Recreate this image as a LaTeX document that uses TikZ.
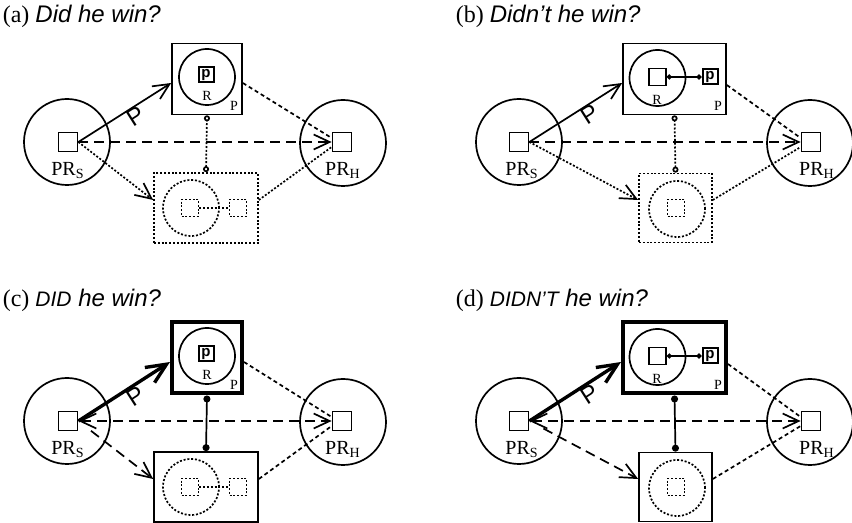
\documentclass[tikz,border=0pt]{standalone}
\usepackage{fontspec}
\setmainfont{Liberation Serif}
\setsansfont{Liberation Sans}
\usetikzlibrary{arrows.meta}

\tikzset{
  >={Straight Barb[length=8pt,width=7.5pt]},
  ring/.style={circle, draw, minimum size=43pt, inner sep=0pt},
  inring/.style={circle, draw, minimum size=28pt, inner sep=0pt},
  sqbig/.style={draw, minimum size=9.5pt, inner sep=0pt},
  sqsmall/.style={draw, minimum size=8.5pt, inner sep=0pt},
  pbox/.style={draw, line width=1pt, minimum size=7.5pt, inner sep=0pt,
    font=\sffamily\bfseries\fontsize{7.5}{7.5}\selectfont},
  box/.style={draw, minimum height=35.5pt, inner sep=0pt},
  dotline/.style={dash pattern=on 1pt off 0.9pt},
  sdash/.style={dash pattern=on 2pt off 1.5pt},
  ldash/.style={dash pattern=on 5pt off 3pt},
  prlabel/.style={anchor=base, inner sep=0pt, font=\fontsize{10}{10}\selectfont},
  smallab/.style={inner sep=0pt, font=\fontsize{7}{7}\selectfont},
  msg/.style={sloped, below, inner sep=0pt, font=\sffamily\fontsize{12}{12}\selectfont},
  paneltitle/.style={anchor=base west, inner sep=0pt, font=\fontsize{12}{12}\selectfont},
  thickarrow/.style={line width=1.7pt, -{Straight Barb[length=10pt,width=9pt]}}
}

\begin{document}
\begin{tikzpicture}[x=0.5pt, y=-0.5pt, line width=0.85pt]
\useasboundingbox (0,0) rectangle (852,523);

% ---------- (a) ----------
\node[paneltitle] (titA) at (2,23) {(a) {\sffamily\itshape Did he win?}};
% hablantes
\node[ring] (cSa) at (67,142) {};
\node[sqbig] (sSa) at (68,142) {};
\node[prlabel] (lSa) at (68,176) {PR\textsubscript{S}};
\node[ring] (cHa) at (343,143) {};
\node[sqbig] (sHa) at (342,142) {};
\node[prlabel] (lHa) at (343,176) {PR\textsubscript{H}};
% caja superior
\node[box, minimum width=35pt] (tA) at (207,79) {};
\node[inring] (rA) at (207,77) {};
\node[pbox] (pA) at (206,75) {p};
\node[smallab] (rlA) at (207,96) {R};
\node[smallab] (plA) at (234,106) {P};
% caja inferior (punteada)
\node[box, dotline, minimum width=52pt, minimum height=35pt] (bA) at (206,208) {};
\node[inring, dotline] (rbA) at (191,208) {};
\node[sqsmall, dotline] (qA) at (190,208) {};
\node[sqsmall, dotline] (qqA) at (238,208) {};
\draw[dotline] (qA) -- (qqA);
% flechas
\draw[->] (sSa.east) -- ([yshift=-2pt]tA.west) node[msg, pos=0.57] (mA) {P};
\draw[->, ldash] (sSa.east) -- (sHa.west);
\draw[->, dotline] (sSa.east) -- ([yshift=4pt]bA.west);
\draw[sdash] ([yshift=-2pt]tA.east) -- ([yshift=2pt]sHa.west);
\draw[dotline] ([yshift=4pt]bA.east) -- ([yshift=-2.5pt]sHa.west);
\draw[dotline, {Circle[open,length=3pt]}-{Circle[open,length=3pt]}] (bA.north) -- (tA.south);

% ---------- (b) ----------
\node[paneltitle] (titB) at (455,23) {(b) {\sffamily\itshape Didn’t he win?}};
\node[ring] (cSb) at (519,142) {};
\node[sqbig] (sSb) at (519,142) {};
\node[prlabel] (lSb) at (522,176) {PR\textsubscript{S}};
\node[ring] (cHb) at (810,143) {};
\node[sqbig] (sHb) at (811,142) {};
\node[prlabel] (lHb) at (817,176) {PR\textsubscript{H}};
% caja superior
\node[box, minimum width=51.5pt] (tB) at (674.5,79) {};
\node[inring] (rB) at (657.5,78) {};
\node[sqsmall] (qtB) at (657.5,77) {};
\node[pbox] (pB) at (710,77) {p};
\node[smallab] (rlB) at (657,100) {R};
\node[smallab] (plB) at (718,106) {P};
\draw[{Circle[length=2.5pt]}-{Circle[length=2.5pt]}] (qtB) -- (pB);
% caja inferior (punteada)
\node[box, dotline, minimum width=36.5pt, minimum height=34.5pt] (bB) at (675.5,208) {};
\node[inring, dotline] (rbB) at (677,209) {};
\node[sqsmall, dotline] (qB) at (676,208) {};
% flechas
\draw[->] (sSb.east) -- ([yshift=-2pt]tB.west) node[msg, pos=0.6] (mB) {P};
\draw[->, ldash] (sSb.east) -- (sHb.west);
\draw[->, dotline] (sSb.east) -- ([yshift=4pt]bB.west);
\draw[sdash] ([yshift=-3pt]tB.east) -- ([yshift=2pt]sHb.west);
\draw[dotline] ([yshift=4pt]bB.east) -- ([yshift=-2.5pt]sHb.west);
\draw[dotline, {Circle[open,length=3pt]}-{Circle[open,length=3pt]}] (bB.north) -- (tB.south);

% ---------- (c) ----------
\node[paneltitle] (titC) at (2,307) {(c) {\sffamily\itshape{\fontsize{10.5}{10.5}\selectfont DID} he win?}};
\begin{scope}[shift={(0,279)}]
\node[ring] (cSc) at (67,142) {};
\node[sqbig] (sSc) at (68,142) {};
\node[prlabel] (lSc) at (68,176) {PR\textsubscript{S}};
\node[ring] (cHc) at (343,143) {};
\node[sqbig] (sHc) at (342,142) {};
\node[prlabel] (lHc) at (343,176) {PR\textsubscript{H}};
% caja superior (gruesa)
\node[box, line width=2pt, minimum width=35pt] (tC) at (207,79) {};
\node[inring] (rC) at (207,77) {};
\node[pbox] (pC) at (206,75) {p};
\node[smallab] (rlC) at (207,96) {R};
\node[smallab] (plC) at (234,106) {P};
% caja inferior
\node[box, minimum width=52pt, minimum height=35pt] (bC) at (206,208) {};
\node[inring, dotline] (rbC) at (191,208) {};
\node[sqsmall, dotline] (qC) at (190,208) {};
\node[sqsmall, dotline] (qqC) at (238,208) {};
\draw[dotline] (qC) -- (qqC);
% flechas
\draw[thickarrow] (sSc.east) -- ([yshift=-2pt]tC.west) node[msg, pos=0.57] (mC) {P};
\draw[<->, ldash] (sSc.east) -- (sHc.west);
\draw[->, ldash, shorten <=8pt] (sSc.east) -- ([yshift=4pt]bC.west);
\draw[sdash] ([yshift=-2pt]tC.east) -- ([yshift=2pt]sHc.west);
\draw[sdash] ([yshift=4pt]bC.east) -- ([yshift=-2.5pt]sHc.west);
\draw[{Circle[length=3.5pt]}-{Circle[length=3.5pt]}] (bC.north) -- (tC.south);
\end{scope}

% ---------- (d) ----------
\node[paneltitle] (titD) at (455,307) {(d) {\sffamily\itshape{\fontsize{10.5}{10.5}\selectfont DIDN’T} he win?}};
\begin{scope}[shift={(0,279)}]
\node[ring] (cSd) at (519,142) {};
\node[sqbig] (sSd) at (519,142) {};
\node[prlabel] (lSd) at (522,176) {PR\textsubscript{S}};
\node[ring] (cHd) at (810,143) {};
\node[sqbig] (sHd) at (811,142) {};
\node[prlabel] (lHd) at (817,176) {PR\textsubscript{H}};
% caja superior (gruesa)
\node[box, line width=2pt, minimum width=51.5pt] (tD) at (674.5,79) {};
\node[inring] (rD) at (657.5,78) {};
\node[sqsmall] (qtD) at (657.5,77) {};
\node[pbox] (pD) at (710,77) {p};
\node[smallab] (rlD) at (657,100) {R};
\node[smallab] (plD) at (718,106) {P};
\draw[{Circle[length=2.5pt]}-{Circle[length=2.5pt]}] (qtD) -- (pD);
% caja inferior
\node[box, minimum width=36.5pt, minimum height=34.5pt] (bD) at (675.5,208) {};
\node[inring, dotline] (rbD) at (677,209) {};
\node[sqsmall, dotline] (qD) at (676,208) {};
% flechas
\draw[thickarrow] (sSd.east) -- ([yshift=-2pt]tD.west) node[msg, pos=0.6] (mD) {P};
\draw[<->, ldash] (sSd.east) -- (sHd.west);
\draw[->, ldash, shorten <=8pt] (sSd.east) -- ([yshift=4pt]bD.west);
\draw[sdash] ([yshift=-3pt]tD.east) -- ([yshift=2pt]sHd.west);
\draw[sdash] ([yshift=4pt]bD.east) -- ([yshift=-2.5pt]sHd.west);
\draw[{Circle[length=3.5pt]}-{Circle[length=3.5pt]}] (bD.north) -- (tD.south);
\end{scope}
\end{tikzpicture}
\end{document}
